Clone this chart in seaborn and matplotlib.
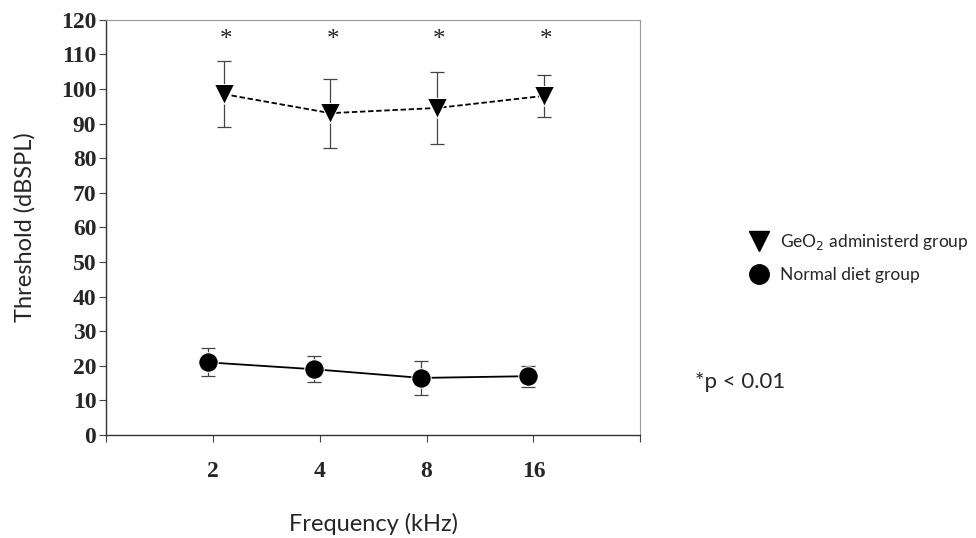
import numpy as np
import pandas as pd
import matplotlib
matplotlib.use("Agg")
import matplotlib.pyplot as plt
from matplotlib.lines import Line2D
import seaborn as sns

# 周波数カテゴリ
freqs = ["2", "4", "8", "16"]
# GeO2 投与群
geo2_mean = [98.5, 93.0, 94.5, 98.0]
geo2_err = [9.5, 10.0, 10.5, 6.0]
# 通常食群
normal_mean = [21.0, 19.0, 16.5, 17.0]
normal_err = [4.0, 3.8, 5.0, 3.0]
# 有意差マーク
star_y = [114, 114, 114, 114]

sns.set_theme(style="white")
plt.rcParams["font.family"] = ["Lato", "DejaVu Sans"]

pos = np.arange(1, len(freqs) + 1)
df = pd.DataFrame({
    "pos": np.concatenate([pos + 0.1, pos - 0.05]),
    "threshold": geo2_mean + normal_mean,
    "group": ["GeO2"] * 4 + ["Normal"] * 4,
})

fig = plt.figure(figsize=(9.76, 5.38), dpi=100)
ax = fig.add_axes([0.1086, 0.1914, 0.5475, 0.772])

sns.lineplot(data=df, x="pos", y="threshold", hue="group", style="group",
             markers={"GeO2": "v", "Normal": "o"},
             dashes={"GeO2": (3, 1.5), "Normal": ""},
             palette={"GeO2": "black", "Normal": "black"},
             markersize=14, linewidth=1.3, legend=False, ax=ax)

ax.errorbar(pos + 0.1, geo2_mean, yerr=geo2_err, fmt="none",
            ecolor="#444444", elinewidth=0.9, capsize=5, capthick=0.9, zorder=1)
ax.errorbar(pos - 0.05, normal_mean, yerr=normal_err, fmt="none",
            ecolor="#444444", elinewidth=0.9, capsize=5, capthick=0.9, zorder=1)

for p, y in zip(pos + 0.12, star_y):
    ax.text(p, y, "*", ha="center", va="center", fontsize=18,
            family=["Liberation Serif"], color="#222222")

ax.set_xlim(0, 5)
ax.set_ylim(0, 120)
ax.set_xticks(range(0, 6))
ax.set_xticklabels([""] + freqs + [""])
ax.set_yticks(range(0, 121, 10))
for lab in ax.get_xticklabels() + ax.get_yticklabels():
    lab.set_family(["Liberation Serif"])
    lab.set_fontsize(17)
    lab.set_fontweight("bold")
ax.tick_params(axis="both", direction="out", length=5, width=0.8,
               color="#444444", left=True, bottom=True, pad=2)
ax.tick_params(axis="x", pad=14)

for side in ["left", "bottom"]:
    ax.spines[side].set_color("#333333")
    ax.spines[side].set_linewidth(1.0)
for side in ["top", "right"]:
    ax.spines[side].set_color("#999999")
    ax.spines[side].set_linewidth(0.8)

ax.set_xlabel("Frequency (kHz)", fontsize=17, labelpad=22)
ax.set_ylabel("Threshold (dBSPL)", fontsize=17, labelpad=18)

handles = [
    Line2D([], [], color="black", marker="v", linestyle="none", markersize=14),
    Line2D([], [], color="black", marker="o", linestyle="none", markersize=14),
]
fig.legend(handles, ["GeO$_2$ administerd group", "Normal diet group"],
           loc="upper left", bbox_to_anchor=(0.748, 0.598), frameon=False,
           fontsize=12.5, labelspacing=0.85, handletextpad=0.5, handlelength=1.5)

fig.text(0.712, 0.29, "*p < 0.01", fontsize=16, va="center")

plt.savefig("out.png", dpi=100)
plt.close()
